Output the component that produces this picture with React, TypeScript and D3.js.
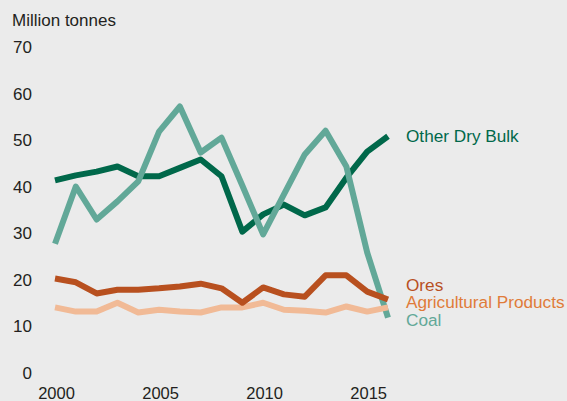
import React from "react";
import * as d3 from "d3";

const years = [2000, 2001, 2002, 2003, 2004, 2005, 2006, 2007, 2008, 2009, 2010, 2011, 2012, 2013, 2014, 2015, 2016];
const otherDryBulk = [41.3, 42.4, 43.2, 44.3, 42.2, 42.2, 44.0, 45.8, 42.2, 30.3, 34.0, 36.1, 33.8, 35.5, 41.9, 47.5, 50.8];
const coal = [27.7, 40.0, 32.9, 36.8, 41.1, 51.8, 57.2, 47.3, 50.5, 40.2, 29.7, 38.3, 46.9, 52.0, 44.3, 25.8, 11.8];
const agricultural = [14.0, 13.1, 13.1, 15.0, 12.9, 13.5, 13.1, 12.9, 14.0, 14.0, 15.0, 13.5, 13.3, 12.9, 14.2, 13.1, 14.0];
const ores = [20.2, 19.4, 17.0, 17.8, 17.8, 18.1, 18.5, 19.1, 18.1, 15.0, 18.3, 16.8, 16.3, 20.9, 20.9, 17.4, 15.7];
const yTicks = [0, 10, 20, 30, 40, 50, 60, 70];
const xTicks = [2000, 2005, 2010, 2015];

const W = 567;
const H = 401;

export default function App() {
  const x = d3.scaleLinear().domain([2000, 2016]).range([55, 388]);
  const y = d3.scaleLinear().domain([0, 70]).range([372.5, 47]);
  const line = (vals: number[]) =>
    d3.line<number>().x((_, i) => x(years[i])).y((d) => y(d))(vals) || "";

  const series = [
    { vals: otherDryBulk, color: "#00684A" },
    { vals: coal, color: "#62A898" },
    { vals: agricultural, color: "#F1BA96" },
    { vals: ores, color: "#B8501F" },
  ];
  const font = "Liberation Sans, Arial, sans-serif";
  const textColor = "#231F20";

  return (
    <svg width={W} height={H} style={{ position: "absolute", left: 0, top: 0, background: "#EBEBEB" }} fontFamily={font}>
      <rect x={0} y={0} width={W} height={H} fill="#EBEBEB" />
      <text x={12} y={26} fontSize={17} fill={textColor}>Million tonnes</text>
      {yTicks.map((t) => (
        <text key={t} x={32} y={y(t)} dy="0.36em" textAnchor="end" fontSize={17} fill={textColor}>
          {t}
        </text>
      ))}
      {xTicks.map((t) => (
        <text key={t} x={x(t) + 1.5} y={399} textAnchor="middle" fontSize={16.5} fill={textColor}>
          {t}
        </text>
      ))}
      {series.map((s, i) => (
        <path key={i} d={line(s.vals)} fill="none" stroke={s.color} strokeWidth={6} strokeLinejoin="round" strokeLinecap="butt" />
      ))}
      <text x={406} y={142} fontSize={17.2} fill="#00684A">Other Dry Bulk</text>
      <text x={406} y={291} fontSize={17.2} fill="#B8501F">Ores</text>
      <text x={406} y={307.5} fontSize={17.2} fill="#E07B39">Agricultural Products</text>
      <text x={406} y={326} fontSize={17.2} fill="#62A898">Coal</text>
    </svg>
  );
}
